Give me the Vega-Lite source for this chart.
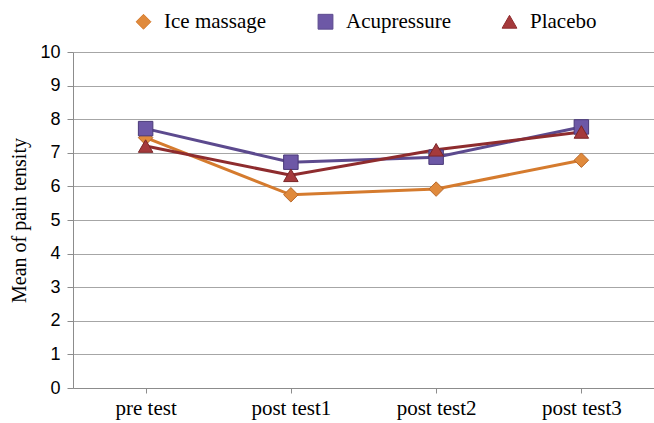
{
  "$schema": "https://vega.github.io/schema/vega-lite/v6.json",
  "width": 581,
  "height": 336,
  "autosize": {"type": "none"},
  "padding": {"left": 73, "top": 52, "right": 0, "bottom": 35},
  "background": "white",
  "data": {
    "values": [
      {"test": "pre test", "group": "Ice massage", "mean": 7.45},
      {"test": "post test1", "group": "Ice massage", "mean": 5.75},
      {"test": "post test2", "group": "Ice massage", "mean": 5.92},
      {"test": "post test3", "group": "Ice massage", "mean": 6.78},
      {"test": "pre test", "group": "Acupressure", "mean": 7.72},
      {"test": "post test1", "group": "Acupressure", "mean": 6.72},
      {"test": "post test2", "group": "Acupressure", "mean": 6.87},
      {"test": "post test3", "group": "Acupressure", "mean": 7.77},
      {"test": "pre test", "group": "Placebo", "mean": 7.2},
      {"test": "post test1", "group": "Placebo", "mean": 6.33},
      {"test": "post test2", "group": "Placebo", "mean": 7.09},
      {"test": "post test3", "group": "Placebo", "mean": 7.62}
    ]
  },
  "encoding": {
    "x": {
      "field": "test", "type": "nominal",
      "sort": ["pre test", "post test1", "post test2", "post test3"],
      "scale": {"paddingInner": 0, "paddingOuter": 0},
      "axis": {
        "title": null, "labelAngle": 0, "bandPosition": 0, "grid": false,
        "labelFont": "Liberation Serif", "labelFontSize": 21, "labelColor": "#000",
        "domainColor": "#8c8c8c", "tickColor": "#8c8c8c", "tickSize": 5,
        "labelPadding": 4
      }
    },
    "y": {
      "field": "mean", "type": "quantitative",
      "scale": {"domain": [0, 10], "nice": false},
      "axis": {
        "title": "Mean of pain tensity", "titleFont": "Liberation Serif",
        "titleFontSize": 20, "titleFontWeight": "normal", "titleColor": "#000",
        "titlePadding": 10,
        "values": [0,1,2,3,4,5,6,7,8,9,10],
        "labelFont": "Liberation Sans", "labelFontSize": 18, "labelColor": "#000",
        "labelPadding": 7,
        "gridColor": "#a6a6a6", "gridWidth": 1.2,
        "domainColor": "#8c8c8c", "tickColor": "#8c8c8c", "tickSize": 6
      }
    },
    "color": {
      "field": "group", "type": "nominal",
      "scale": {
        "domain": ["Ice massage", "Acupressure", "Placebo"],
        "range": ["#d57b2e", "#5c4a8e", "#8e2c2e"]
      },
      "legend": {
        "title": null, "orient": "none", "direction": "horizontal",
        "legendX": 60, "legendY": -41,
        "labelFont": "Liberation Serif", "labelFontSize": 21, "labelColor": "#000",
        "symbolSize": 220, "symbolStrokeWidth": 1, "columnPadding": 48, "labelOffset": 10
      }
    }
  },
  "layer": [
    {
      "mark": {"type": "line", "strokeWidth": 3}
    },
    {
      "mark": {"type": "point", "filled": true, "opacity": 1, "size": 210, "strokeWidth": 1},
      "encoding": {
        "fill": {"field": "group", "type": "nominal", "legend": null,
          "scale": {"domain": ["Ice massage", "Acupressure", "Placebo"], "range": ["#e08a3c", "#6d58a6", "#a53a3c"]}},
        "stroke": {"field": "group", "type": "nominal", "legend": null,
          "scale": {"domain": ["Ice massage", "Acupressure", "Placebo"], "range": ["#b8682a", "#4a3a78", "#7a2628"]}},
        "shape": {"field": "group", "type": "nominal", "legend": null,
          "scale": {"domain": ["Ice massage", "Acupressure", "Placebo"], "range": ["diamond", "square", "triangle-up"]}}
      }
    }
  ]
}
